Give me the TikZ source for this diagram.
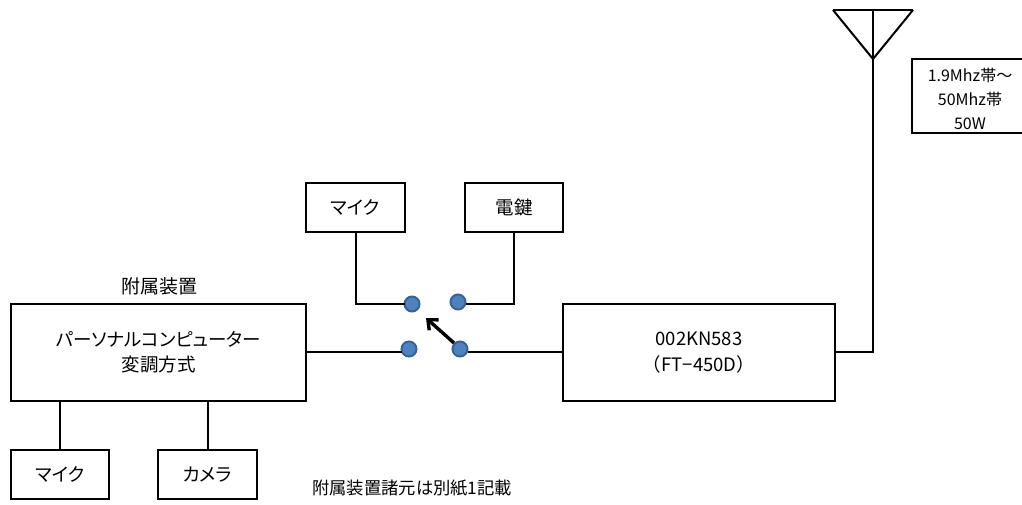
\documentclass[tikz,border=0pt]{standalone}
\usepackage{fontspec}
\setmainfont{Noto Sans CJK JP}
\newfontfamily\pfont[RawFeature=+palt]{Noto Sans CJK JP}
\usetikzlibrary{arrows.meta}
\definecolor{termline}{RGB}{56,98,150}
\definecolor{termfill}{RGB}{79,129,189}
\tikzset{
  box/.style={draw=black,line width=2pt,fill=white,anchor=north west,inner sep=0pt,outer sep=0pt,align=center,font=\fontsize{18.5}{25.5}\selectfont},
  wire/.style={line width=2pt,draw=black},
  term/.style={circle,draw=termline,line width=2pt,fill=termfill,minimum size=15pt,inner sep=0pt,outer sep=0pt},
  lbl/.style={inner sep=0pt}
}
\begin{document}
\begin{tikzpicture}[x=1pt,y=-1pt]
\useasboundingbox (0,0) rectangle (1022,505);
\node[box,minimum width=99pt,minimum height=49pt] (mic) at (306,183) {\pfont マイク};
\node[box,minimum width=98pt,minimum height=49pt] (key) at (465,183) {電鍵};
\node[box,minimum width=295pt,minimum height=97pt] (pc) at (11,304) {\pfont\fontsize{18.5}{25}\selectfont パーソナルコンピューター\\\pfont 変調方式};
\node[box,minimum width=272pt,minimum height=97pt] (rig) at (563,304) {002KN583\\（FT−450D）};
\node[box,minimum width=98pt,minimum height=49pt] (mic2) at (11,450) {\pfont マイク};
\node[box,minimum width=99pt,minimum height=49pt] (cam) at (158,450) {\pfont カメラ};
\node[box,minimum width=116pt,minimum height=74pt,font=\fontsize{16}{24}\selectfont] (band) at (912,59) {\rule{0pt}{20pt}1.9Mhz帯～\\50Mhz帯\\50W};
\node[lbl,font=\fontsize{19}{25}\selectfont] (att) at (159,286) {附属装置};
\node[lbl,anchor=west,font=\fontsize{17.3}{25}\selectfont] (note) at (312,488) {附属装置諸元は別紙1記載};
\node[term] (ta) at (412,304) {};
\node[term] (tb) at (458,302) {};
\node[term] (tc) at (409,349) {};
\node[term] (td) at (460,349) {};
\coordinate (apex) at (873,59);
\coordinate (atop) at (873,10);
\coordinate (al) at (833,10);
\coordinate (ar) at (913,10);
\coordinate (foot) at (873,352);
\draw[wire] (al) -- (ar);
\draw[wire] (al) -- (apex) -- (ar);
\draw[wire,line join=miter] (atop) -- (foot) -- (rig.east |- foot);
\draw[wire] (mic.south -| 356,0) -- (356,304) -- (ta.west);
\draw[wire] (key.south -| 514,0) -- (514,304) -- (tb.east |- 0,304);
\draw[wire] (pc.east |- 0,352) -- (tc.west |- 0,352);
\draw[wire] (td.east |- 0,352) -- (rig.west |- 0,352);
\draw[wire] (60,401) -- (60,450);
\draw[wire] (208,401) -- (208,450);
\coordinate (tip) at (426,318);
\draw[line width=3.4pt,-{Straight Barb[length=8pt,width=14pt]}] (td) ++(-6,-6) -- (tip);
\end{tikzpicture}
\end{document}
